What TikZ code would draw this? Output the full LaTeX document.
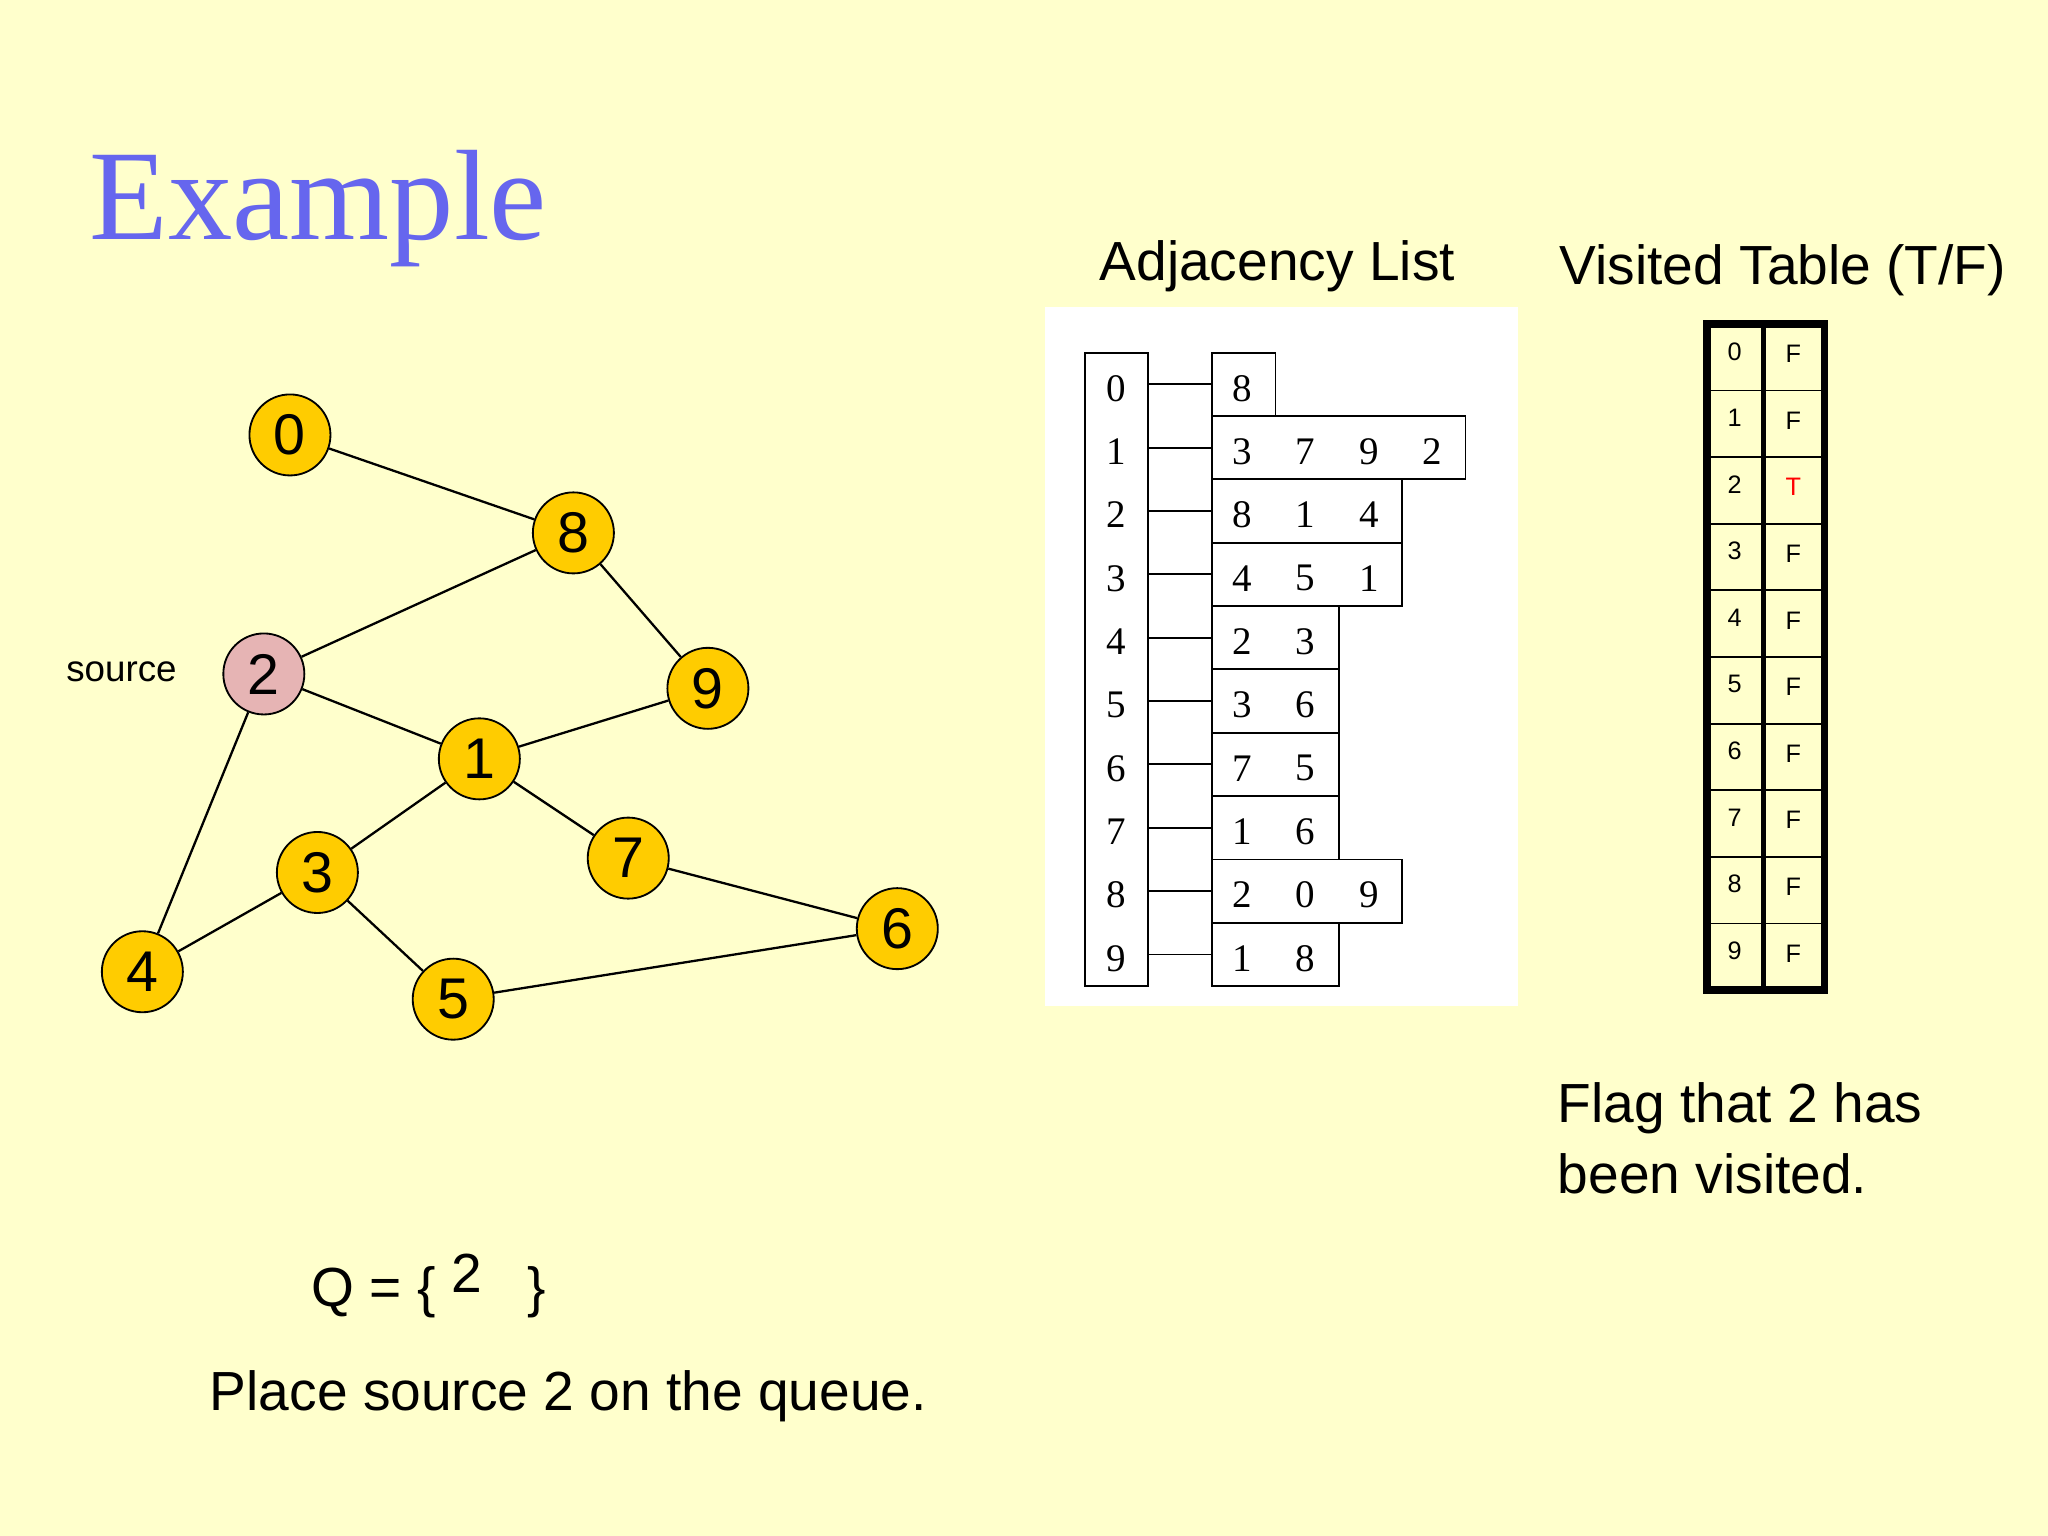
\documentclass[tikz,border=0pt]{standalone}
\usepackage{fontspec}
\setmainfont{Liberation Sans}
\newfontfamily\seriff{Liberation Serif}
\begin{document}
\begin{tikzpicture}[x=0.01cm,y=-0.01cm,
  vtx/.style={circle,draw=black,fill=yellow!50!orange!90!white,minimum size=0.62cm,inner sep=0pt,font=\fontsize{12.5}{13}\selectfont},
  ed/.style={draw=black,line width=0.5pt},
  cell/.style={draw=black,line width=0.4pt},
  adj/.style={font=\seriff\fontsize{8.5}{9}\selectfont},
  vt/.style={font=\fontsize{5.5}{7}\selectfont},
  big/.style={font=\fontsize{12}{12}\selectfont}]
\definecolor{bg}{RGB}{255,255,204}
\definecolor{ttl}{RGB}{102,102,238}
\definecolor{nd}{RGB}{255,204,0}
\definecolor{pk}{RGB}{230,180,180}
\fill[bg] (0,0) rectangle (1568,1176);
\useasboundingbox (0,0) rectangle (1568,1176);
\node[anchor=base west,text=ttl,font=\seriff\fontsize{28}{28}\selectfont,inner sep=0] (title) at (68,183) {Example};
\tikzset{vtx/.append style={fill=nd}}
\node[vtx] (n0) at (222,333) {0};
\node[vtx] (n8) at (439,408) {8};
\node[vtx,fill=pk] (n2) at (202,516) {2};
\node[vtx] (n9) at (542,527) {9};
\node[vtx] (n1) at (367,581) {1};
\node[vtx] (n3) at (243,668) {3};
\node[vtx] (n7) at (481,657) {7};
\node[vtx] (n6) at (687,711) {6};
\node[vtx] (n4) at (109,744) {4};
\node[vtx] (n5) at (347,765) {5};
\foreach \a/\b in {n0/n8,n8/n2,n8/n9,n2/n1,n2/n4,n1/n9,n1/n3,n1/n7,n3/n4,n3/n5,n7/n6,n5/n6}
  \draw[ed] (\a) -- (\b);
\node[font=\fontsize{8}{9}\selectfont] (src) at (93,514) {source};
% adjacency list
\node[big] (al) at (978,204) {Adjacency List};
\fill[white] (800,235) rectangle (1162,770);
\draw[cell] (831,270) rectangle (879,755);
\foreach \i/\lst in {0/{8},1/{3,7,9,2},2/{8,1,4},3/{4,5,1},4/{2,3},5/{3,6},6/{7,5},7/{1,6},8/{2,0,9},9/{1,8}}{
  \pgfmathsetmacro\yt{270+48.5*\i}
  \pgfmathsetmacro\yc{\yt+24.25}
  \node[adj] at (855,\yc+3) {\i};
  \draw[cell] (879,\yc) -- (928,\yc);
  \foreach \v [count=\k] in \lst {
    \pgfmathsetmacro\xc{928+48.5*(\k-1)}
    \xdef\last{\k}
    \node[adj] at (\xc+23,\yc+3) {\v};
  }
  \draw[cell] (928,\yt) rectangle ({928+48.5*\last},\yt+48.5);
}
% visited table
\node[big] (vtt) at (1365,207) {Visited Table (T/F)};
\foreach \i/\c in {0/black,1/black,2/red,3/black,4/black,5/black,6/black,7/black,8/black,9/black}{
  \pgfmathsetmacro\yt{248+51*\i}
  \draw[cell] (1307,\yt) rectangle (1350,\yt+51);
  \draw[cell] (1350,\yt) rectangle (1397,\yt+51);
  \node[vt] at (1328,\yt+21) {\i};
}
\foreach \i/\f/\c in {0/F/black,1/F/black,2/T/red,3/F/black,4/F/black,5/F/black,6/F/black,7/F/black,8/F/black,9/F/black}
  \node[vt,text=\c] at (1373,{248+51*\i+23}) {\f};
\draw[line width=1.6pt] (1307,248) rectangle (1397,758);
\draw[line width=1.2pt] (1350,248) -- (1350,758);
\node[anchor=north west,align=left,font=\fontsize{12}{15.5}\selectfont,inner sep=0] (flag) at (1192,828) {Flag that 2 has\\been visited.};
\node[anchor=base west,big,inner sep=0] (q) at (238,1000) {Q = \{ \raisebox{3pt}{2} \ \ \}};
\node[anchor=base west,big,inner sep=0] (pl) at (160,1080) {Place source 2 on the queue.};
\end{tikzpicture}
\end{document}
